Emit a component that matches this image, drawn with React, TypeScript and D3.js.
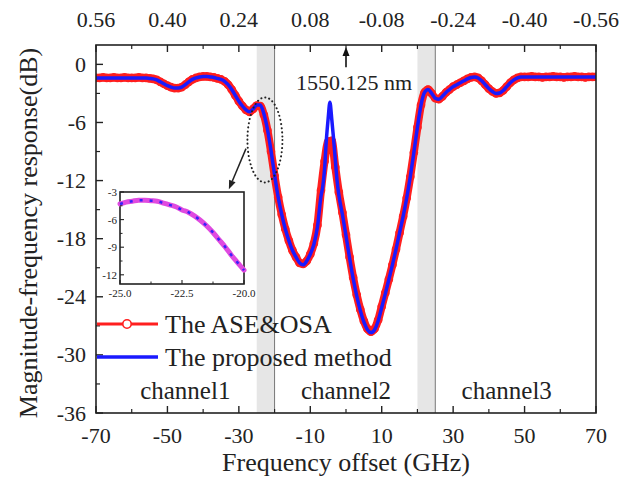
import * as d3 from "d3";

// ASE & OSA measurement, [frequency offset GHz, dB]
const aseData: [number, number][] = [
  [-70, -1.4], [-69, -1.4], [-68, -1.35], [-67, -1.4], [-66, -1.4], [-65, -1.35], [-64, -1.4],
  [-63, -1.4], [-62, -1.35], [-61, -1.4], [-60, -1.4], [-59, -1.4], [-58, -1.35], [-57, -1.4],
  [-56, -1.4], [-55, -1.45], [-54, -1.5], [-53, -1.6], [-52, -1.8], [-51, -2.0], [-50, -2.2],
  [-49, -2.35], [-48, -2.45], [-47, -2.45], [-46, -2.35], [-45, -2.1], [-44, -1.8], [-43, -1.55],
  [-42, -1.4], [-41, -1.3], [-40, -1.25], [-39, -1.25], [-38, -1.3], [-37, -1.35], [-36, -1.45],
  [-35, -1.55], [-34, -1.75], [-33, -2.1], [-32, -2.6], [-31, -3.2], [-30, -3.8], [-29, -4.3],
  [-28, -4.7], [-27, -4.9], [-26, -4.6], [-25, -4.25], [-24, -4.3], [-23, -5.2], [-22, -6.8],
  [-21, -9.0], [-20, -11.5], [-19, -13.7], [-18, -15.5], [-17, -17.0], [-16, -18.2], [-15, -19.2],
  [-14, -19.9], [-13, -20.5], [-12, -20.6], [-11, -20.3], [-10, -19.6], [-9, -18.5], [-8, -16.6],
  [-7, -13.0], [-6, -10.0], [-5, -8.0], [-4, -7.9], [-3, -10.6], [-2, -13.2], [-1, -15.3],
  [0, -17.6], [1, -19.9], [2, -22.0], [3, -23.8], [4, -25.3], [5, -26.5], [6, -27.3], [7, -27.6],
  [8, -27.3], [9, -26.4], [10, -25.0], [11, -23.6], [12, -22.2], [13, -20.7], [14, -19.1],
  [15, -17.4], [16, -15.7], [17, -13.8], [18, -11.6], [19, -9.1], [20, -6.5], [21, -4.2],
  [22, -2.9], [23, -2.6], [24, -3.0], [25, -3.5], [26, -3.6], [27, -3.3], [28, -2.9], [29, -2.6],
  [30, -2.3], [31, -2.1], [32, -1.9], [33, -1.7], [34, -1.5], [35, -1.35], [36, -1.3], [37, -1.4],
  [38, -1.7], [39, -2.1], [40, -2.5], [41, -2.8], [42, -3.0], [43, -2.95], [44, -2.7], [45, -2.3],
  [46, -1.9], [47, -1.6], [48, -1.4], [49, -1.3], [50, -1.3], [51, -1.3], [52, -1.25], [53, -1.3],
  [54, -1.3], [55, -1.35], [56, -1.3], [57, -1.3], [58, -1.25], [59, -1.3], [60, -1.3], [61, -1.35],
  [62, -1.3], [63, -1.3], [64, -1.25], [65, -1.3], [66, -1.3], [67, -1.35], [68, -1.3], [69, -1.3],
  [70, -1.3],
];

// proposed method, [frequency offset GHz, dB]
const proposedData: [number, number][] = [
  [-70, -1.4], [-68, -1.4], [-66, -1.4], [-64, -1.4], [-62, -1.4], [-60, -1.4], [-58, -1.4],
  [-56, -1.4], [-55, -1.45], [-54, -1.5], [-53, -1.6], [-52, -1.8], [-51, -2.0], [-50, -2.2],
  [-49, -2.35], [-48, -2.45], [-47, -2.45], [-46, -2.35], [-45, -2.1], [-44, -1.8], [-43, -1.55],
  [-42, -1.4], [-41, -1.3], [-40, -1.25], [-39, -1.25], [-38, -1.3], [-37, -1.35], [-36, -1.45],
  [-35, -1.55], [-34, -1.75], [-33, -2.1], [-32, -2.6], [-31, -3.2], [-30, -3.8], [-29, -4.3],
  [-28, -4.7], [-27, -4.9], [-26, -4.6], [-25, -4.2], [-24, -4.2], [-23, -5.1], [-22, -6.7],
  [-21, -8.9], [-20, -11.4], [-19, -13.7], [-18, -15.5], [-17, -17.0], [-16, -18.2], [-15, -19.2],
  [-14, -19.9], [-13, -20.5], [-12, -20.7], [-11, -20.3], [-10, -19.6], [-9, -18.6], [-8, -16.8],
  [-7, -13.6], [-6.5, -12.6], [-6, -10.8], [-5.5, -7.8], [-5, -5.6], [-4.5, -3.9], [-4, -5.6],
  [-3.5, -7.6], [-3, -9.8], [-2.5, -12.0], [-2, -13.5], [-1, -15.5], [0, -17.7], [1, -20.0],
  [2, -22.1], [3, -23.9], [4, -25.4], [5, -26.6], [6, -27.4], [7, -27.7], [8, -27.4], [9, -26.5],
  [10, -25.1], [11, -23.7], [12, -22.2], [13, -20.7], [14, -19.1], [15, -17.4], [16, -15.7],
  [17, -13.8], [18, -11.6], [19, -9.1], [20, -6.5], [21, -4.2], [22, -2.9], [23, -2.6], [24, -3.0],
  [25, -3.5], [26, -3.6], [27, -3.3], [28, -2.9], [29, -2.6], [30, -2.3], [31, -2.1], [32, -1.9],
  [33, -1.7], [34, -1.5], [35, -1.35], [36, -1.3], [37, -1.4], [38, -1.7], [39, -2.1], [40, -2.5],
  [41, -2.8], [42, -3.0], [43, -2.95], [44, -2.7], [45, -2.3], [46, -1.9], [47, -1.6], [48, -1.4],
  [49, -1.3], [50, -1.3], [52, -1.3], [54, -1.3], [56, -1.3], [58, -1.3], [60, -1.3], [62, -1.3],
  [64, -1.3], [66, -1.3], [68, -1.3], [70, -1.3],
];

// zoomed-in detail (-25 .. -20 GHz)
const insetData: [number, number][] = [
  [-25, -4.3], [-24.75, -4.1], [-24.5, -4.0], [-24.25, -3.9], [-24, -3.9], [-23.75, -3.95],
  [-23.5, -4.0], [-23.25, -4.2], [-23, -4.4], [-22.75, -4.6], [-22.5, -4.95], [-22.25, -5.2],
  [-22, -5.6], [-21.75, -6.1], [-21.5, -6.7], [-21.25, -7.4], [-21, -8.2], [-20.75, -9.0],
  [-20.5, -9.9], [-20.25, -10.7], [-20, -11.5],
];

const xTicks = [-70, -50, -30, -10, 10, 30, 50, 70];
const xMinorTicks = [-60, -40, -20, 0, 20, 40, 60];
const topTickLabels = ["0.56", "0.40", "0.24", "0.08", "-0.08", "-0.24", "-0.40", "-0.56"];
const yTicks = [0, -6, -12, -18, -24, -30, -36];
const yMinorTicks = [-3, -9, -15, -21, -27, -33];
const insetXTicks = [-25, -22.5, -20];
const insetXMinor = [-23.75, -21.25];
const insetYTicks = [-3, -6, -9, -12];
const insetYMinor = [-4.5, -7.5, -10.5];
const guardBands = [[-25, -20], [20, 25]];
const guardLines = [-20, 25];
const channels = [["channel1", -45], ["channel2", 0], ["channel3", 45]] as const;
const legendItems = ["The ASE&OSA", "The proposed method"];

const RED = "#ff1f1f";
const BLUE = "#1a1aff";
const FONT = "'Times New Roman', 'Liberation Serif', serif";

export default function App() {
  const x = d3.scaleLinear().domain([-70, 70]).range([96, 596]);
  const y = d3.scaleLinear().domain([-36, 2]).range([413, 45]);
  const line = d3.line<[number, number]>()
    .x(d => x(d[0])).y(d => y(d[1]))
    .curve(d3.curveMonotoneX);

  const ix = d3.scaleLinear().domain([-25, -20]).range([120, 244]);
  const iy = d3.scaleLinear().domain([-13, -3]).range([284, 192]);
  const iline = d3.line<[number, number]>()
    .x(d => ix(d[0])).y(d => iy(d[1]))
    .curve(d3.curveMonotoneX);

  const [x0, x1] = x.range();
  const [yb, yt] = y.range();
  const arrowTip = y(2) + 2;

  return (
    <svg width={621} height={478} style={{ position: "absolute", left: 0, top: 0, background: "#fff" }}
      fontFamily={FONT}>
      <defs>
        <clipPath id="plot">
          <rect x={x0} y={yt} width={x1 - x0} height={yb - yt} />
        </clipPath>
      </defs>

      {/* guard bands */}
      {guardBands.map(([a, b], i) => (
        <rect key={i} x={x(a)} y={yt} width={x(b) - x(a)} height={yb - yt} fill="#e6e6e6" />
      ))}
      {guardLines.map((g, i) => (
        <line key={i} x1={x(g)} x2={x(g)} y1={yt} y2={yb} stroke="#777" strokeWidth={1} />
      ))}

      {/* curves */}
      <g clipPath="url(#plot)">
        <path d={line(aseData)!} fill="none" stroke={RED} strokeWidth={8} strokeLinejoin="round" />
        {aseData.map((d, i) => (
          <circle key={i} cx={x(d[0])} cy={y(d[1])} r={3.7} fill="none" stroke={RED} strokeWidth={1.3} />
        ))}
        <path d={line(proposedData)!} fill="none" stroke={BLUE} strokeWidth={3.5} strokeLinejoin="round" />
      </g>

      {/* axes frame */}
      <rect x={x0} y={yt} width={x1 - x0} height={yb - yt} fill="none" stroke="#222" strokeWidth={1.6} />

      {/* bottom & top ticks */}
      {xTicks.map((t, i) => (
        <g key={t}>
          <line x1={x(t)} x2={x(t)} y1={yb} y2={yb - 7} stroke="#222" strokeWidth={1.4} />
          <line x1={x(t)} x2={x(t)} y1={yt} y2={yt + 7} stroke="#222" strokeWidth={1.4} />
          <text x={x(t)} y={443} fontSize={22} textAnchor="middle" fill="#222">{t}</text>
          <text x={x(t)} y={27} fontSize={22} textAnchor="middle" fill="#222">{topTickLabels[i]}</text>
        </g>
      ))}
      {xMinorTicks.map(t => (
        <g key={t}>
          <line x1={x(t)} x2={x(t)} y1={yb} y2={yb - 4} stroke="#222" strokeWidth={1.2} />
          <line x1={x(t)} x2={x(t)} y1={yt} y2={yt + 4} stroke="#222" strokeWidth={1.2} />
        </g>
      ))}

      {/* left ticks */}
      {yTicks.map(t => (
        <g key={t}>
          <line x1={x0} x2={x0 + 7} y1={y(t)} y2={y(t)} stroke="#222" strokeWidth={1.4} />
          <text x={86} y={y(t) + 7.5} fontSize={22} textAnchor="end" fill="#222">{t}</text>
        </g>
      ))}
      {yMinorTicks.map(t => (
        <line key={t} x1={x0} x2={x0 + 4} y1={y(t)} y2={y(t)} stroke="#222" strokeWidth={1.2} />
      ))}

      {/* axis titles */}
      <text x={346} y={471} fontSize={26} textAnchor="middle" fill="#222">Frequency offset (GHz)</text>
      <text transform={`translate(37,${(yt + yb) / 2 + 4}) rotate(-90)`} fontSize={26} textAnchor="middle" fill="#222">
        Magnitude-frequency response(dB)
      </text>

      {/* 1550.125 nm marker */}
      <line x1={x(0)} x2={x(0)} y1={y(-0.3)} y2={arrowTip + 6} stroke="#111" strokeWidth={1.6} />
      <path d={`M${x(0)},${arrowTip} L${x(0) - 3.5},${arrowTip + 9} L${x(0) + 3.5},${arrowTip + 9} Z`} fill="#111" />
      <text x={354} y={90} fontSize={22} textAnchor="middle" fill="#222">1550.125 nm</text>

      {/* dotted ellipse + arrow to inset */}
      <ellipse cx={x(-22.7)} cy={y(-7.8)} rx={17.5} ry={42.5} fill="none" stroke="#222" strokeWidth={2}
        strokeDasharray="0.1 4" strokeLinecap="round" />
      {(() => {
        const sx = x(-28), sy = y(-8.7), ex = x(-32.8), ey = y(-12.9);
        const ang = Math.atan2(ey - sy, ex - sx);
        const hl = 9, hw = 3.5;
        const bx = ex - hl * Math.cos(ang), by = ey - hl * Math.sin(ang);
        const px = -Math.sin(ang) * hw, py = Math.cos(ang) * hw;
        return (
          <g>
            <line x1={sx} y1={sy} x2={bx} y2={by} stroke="#222" strokeWidth={1.5} />
            <path d={`M${ex},${ey} L${bx + px},${by + py} L${bx - px},${by - py} Z`} fill="#222" />
          </g>
        );
      })()}

      {/* inset */}
      <g>
        <rect x={ix(-25)} y={iy(-3)} width={ix(-20) - ix(-25)} height={iy(-13) - iy(-3)} fill="#fff" stroke="#222" strokeWidth={1.6} />
        <path d={iline(insetData)!} fill="none" stroke="#e04ae0" strokeWidth={5} strokeLinecap="round" />
        <path d={iline(insetData)!} fill="none" stroke={BLUE} strokeWidth={2.5} strokeDasharray="3 7" opacity={0.85} />
        {insetXTicks.map(t => (
          <g key={t}>
            <line x1={ix(t)} x2={ix(t)} y1={iy(-13)} y2={iy(-13) - 4} stroke="#222" strokeWidth={1.1} />
            <text x={ix(t)} y={297} fontSize={11} textAnchor="middle" fill="#222">{t.toFixed(1)}</text>
          </g>
        ))}
        {insetXMinor.map(t => (
          <line key={t} x1={ix(t)} x2={ix(t)} y1={iy(-13)} y2={iy(-13) - 2.5} stroke="#222" strokeWidth={1} />
        ))}
        {insetYTicks.map(t => (
          <g key={t}>
            <line x1={ix(-25)} x2={ix(-25) + 4} y1={iy(t)} y2={iy(t)} stroke="#222" strokeWidth={1.1} />
            <text x={117} y={iy(t) + 4} fontSize={11} textAnchor="end" fill="#222">{t}</text>
          </g>
        ))}
        {insetYMinor.map(t => (
          <line key={t} x1={ix(-25)} x2={ix(-25) + 2.5} y1={iy(t)} y2={iy(t)} stroke="#222" strokeWidth={1} />
        ))}
      </g>

      {/* legend */}
      <g>
        <line x1={97} x2={158} y1={324} y2={324} stroke={RED} strokeWidth={3} />
        <circle cx={127} cy={324} r={4.2} fill="#fff" stroke={RED} strokeWidth={1.6} />
        <text x={165} y={333} fontSize={26} fill="#222">{legendItems[0]}</text>
        <line x1={97} x2={158} y1={357} y2={357} stroke={BLUE} strokeWidth={3.5} />
        <text x={165} y={366} fontSize={26} fill="#222">{legendItems[1]}</text>
      </g>

      {/* channel labels */}
      {channels.map(([name, f]) => (
        <text key={name} x={x(f)} y={399} fontSize={25} textAnchor="middle" fill="#222">{name}</text>
      ))}
    </svg>
  );
}
